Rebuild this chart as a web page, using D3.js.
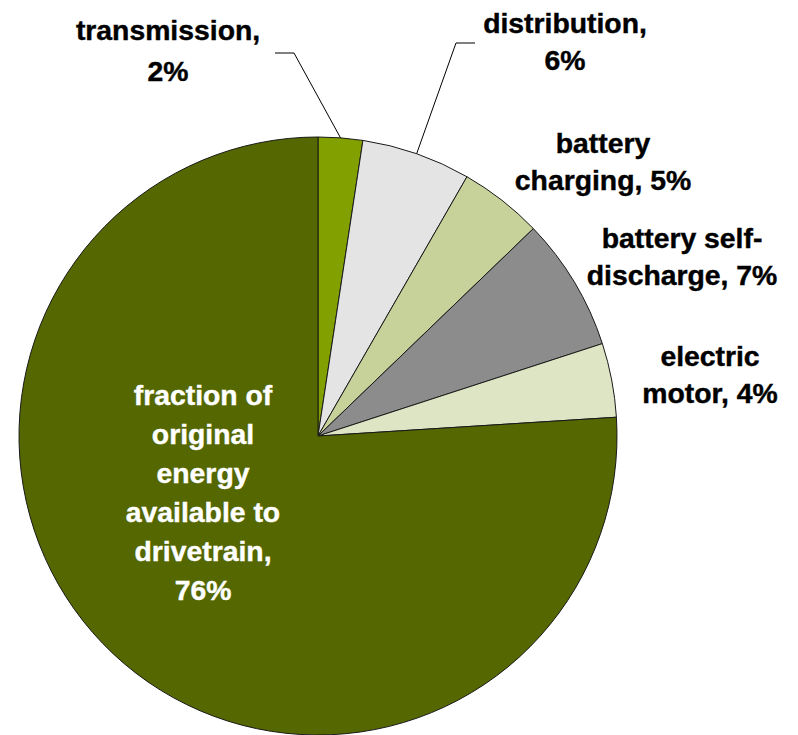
<!DOCTYPE html>
<html>
<head>
<meta charset="utf-8">
<script src="https://cdn.jsdelivr.net/npm/d3@7"></script>
<style>
  body { margin: 0; background: #fff; }
</style>
</head>
<body>
<div class="center"></div>
<script>
// Chart data
const categories = ["transmission", "distribution", "battery charging", "battery self-discharge", "electric motor", "fraction of original energy available to drivetrain"];
const shares = [2.4, 5.9, 4.5, 7.2, 4.0, 76.0];
const labelLines = [
  ["transmission,", "2%"],
  ["distribution,", "6%"],
  ["battery", "charging, 5%"],
  ["battery self-", "discharge, 7%"],
  ["electric", "motor, 4%"],
  ["fraction of", "original", "energy", "available to", "drivetrain,", "76%"]
];
const colors = ["#82a000", "#e4e4e4", "#c7d29a", "#8c8c8c", "#dee5c4", "#546700"];

// Layout
const width = 798, height = 735;
const cx = 318, cy = 436, radius = 299;

// label anchor (centre x, first baseline y, line step) and leader elbows
const labelPos = [
  {x: 168, y: 40, dy: 41, color: "#000"},
  {x: 565, y: 33, dy: 37, color: "#000"},
  {x: 603, y: 153, dy: 37, color: "#000"},
  {x: 682, y: 248, dy: 37, color: "#000"},
  {x: 710, y: 366, dy: 37, color: "#000"},
  {x: 203, y: 405, dy: 39, color: "#fff"}
];
const leaders = [
  {x0: 275, x1: 294, y: 53},
  {x0: 475, x1: 456, y: 43}
];

const svg = d3.select(".center").append("svg")
  .attr("width", width)
  .attr("height", height);

const g = svg.append("g").attr("transform", `translate(${cx},${cy})`);

const pie = d3.pie().sort(null).value(d => d);
const arcs = pie(shares);

const arc = d3.arc().innerRadius(0).outerRadius(radius);
const edgeArc = d3.arc().innerRadius(radius).outerRadius(radius);

g.selectAll("path.slice")
  .data(arcs)
  .enter().append("path")
  .attr("class", "slice")
  .attr("d", arc)
  .style("fill", (d, i) => colors[i])
  .style("stroke", "#1a1a1a")
  .style("stroke-width", 1)
  .style("stroke-linejoin", "round");

// leader lines for the two small top slices
leaders.forEach((l, i) => {
  const p = edgeArc.centroid(arcs[i]);
  svg.append("polyline")
    .attr("points", `${l.x0},${l.y} ${l.x1},${l.y} ${cx + p[0]},${cy + p[1]}`)
    .style("fill", "none")
    .style("stroke", "#000")
    .style("stroke-width", 1);
});

// labels
labelLines.forEach((lines, i) => {
  const pos = labelPos[i];
  const t = svg.append("g")
    .attr("transform", `translate(${pos.x},0) scale(1.05,1)`);
  lines.forEach((line, j) => {
    t.append("text")
      .text(line)
      .attr("x", 0)
      .attr("y", pos.y + j * pos.dy)
      .attr("text-anchor", "middle")
      .style("font-family", "'Liberation Sans', Arial, sans-serif")
      .style("font-size", "27px")
      .style("font-weight", "700")
      .style("fill", pos.color)
      .style("stroke", pos.color)
      .style("stroke-width", 0.4);
  });
});
</script>
</body>
</html>
